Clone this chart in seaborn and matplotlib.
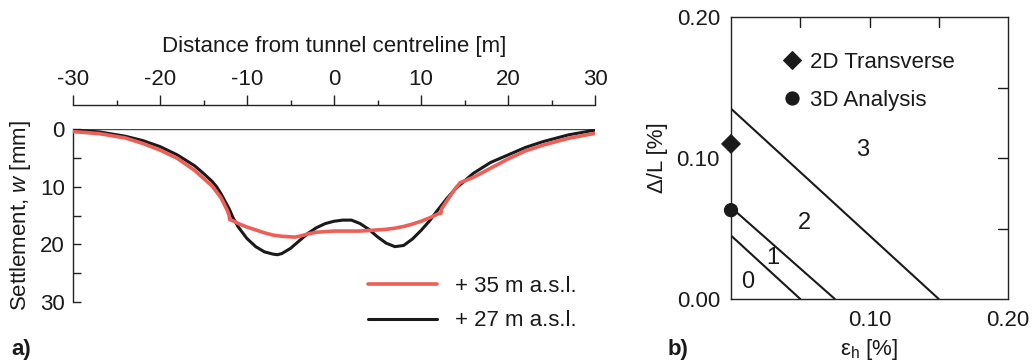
import numpy as np
import pandas as pd
import matplotlib
matplotlib.use("Agg")
import matplotlib.pyplot as plt
import seaborn as sns
from matplotlib.ticker import MultipleLocator, FixedLocator, FormatStrFormatter

# ---------------- data ----------------
# Left panel: settlement troughs (distance [m], settlement [mm])
x_27 = [-30, -27, -24, -22, -20, -18, -16, -15, -14, -13.5, -13, -12.5, -12, -11.6, -11, -10, -9, -8, -7, -6.5, -6,
        -5, -4, -3, -2, -1, 0, 1, 2, 3, 4, 5, 6, 7, 8, 9, 10, 11, 12, 13, 14, 16, 18, 20, 22, 24, 27, 30]
w_27 = [0.2, 0.5, 1.25, 2.0, 3.05, 4.5, 6.4, 7.7, 9.1, 10.0, 11.2, 12.6, 14.0, 15.4, 17.0, 19.0, 20.4, 21.3, 21.7, 21.8, 21.6,
        20.7, 19.4, 18.1, 17.1, 16.4, 16.0, 15.8, 15.8, 16.4, 17.4, 18.7, 19.8, 20.4, 20.2, 19.1, 17.6, 15.9, 13.9, 12.0, 10.3, 7.7, 5.8, 4.5, 3.2, 2.2, 1.0, 0.2]

x_35 = [-30, -27, -24, -22, -20, -18, -16, -14, -13, -12.3, -12.05, -12.0, -11.5, -11, -10, -9, -8, -7, -6, -5, -4.5,
        -4, -3, -2, -1, 0, 1, 2, 3, 4, 5, 6, 7, 8, 9, 10, 11, 12, 12.3, 12.35, 13, 14, 14.3, 14.5, 15, 16, 18, 20, 22, 24, 27, 30]
w_35 = [0.45, 0.8, 1.55, 2.5, 3.65, 5.1, 7.2, 9.9, 11.9, 14.0, 15.0, 15.7, 16.0, 16.4, 17.0, 17.5, 18.0, 18.4, 18.6, 18.7, 18.75,
        18.6, 18.2, 17.9, 17.8, 17.7, 17.7, 17.7, 17.7, 17.6, 17.5, 17.4, 17.2, 16.9, 16.5, 16.0, 15.4, 14.7, 14.6, 13.9, 12.4, 10.2, 9.7, 9.3, 9.0, 8.4, 6.8, 5.2, 3.8, 2.8, 1.6, 0.75]

label_35 = "+ 35 m a.s.l."
label_27 = "+ 27 m a.s.l."

# Right panel: damage category boundaries and results
zone_eps_intercept = [0.05, 0.075, 0.15]
zone_dl_intercept = [0.045, 0.065, 0.135]
zone_labels = ["0", "1", "2", "3"]
zone_label_x = [0.012, 0.030, 0.053, 0.095]
zone_label_y = [0.012, 0.029, 0.054, 0.106]
pt_names = ["2D Transverse", "3D Analysis"]
pt_eps = [0.0, 0.0]
pt_dl = [0.11, 0.063]

top_ticks = [-30, -20, -10, 0, 10, 20, 30]
left_ticks = [0, 10, 20, 30]

# ---------------- style ----------------
sns.set_style("ticks")
plt.rcParams["font.family"] = ["Liberation Sans", "DejaVu Sans"]
plt.rcParams["mathtext.fontset"] = "custom"
plt.rcParams["mathtext.rm"] = "Liberation Sans"
plt.rcParams["mathtext.it"] = "Liberation Sans:italic"
plt.rcParams["axes.edgecolor"] = "#222222"
plt.rcParams["axes.linewidth"] = 1.0
plt.rcParams["axes.unicode_minus"] = False
plt.rcParams["text.color"] = "#1a1a1a"
plt.rcParams["xtick.color"] = "#222222"
plt.rcParams["ytick.color"] = "#222222"
plt.rcParams["xtick.labelcolor"] = "#1a1a1a"
plt.rcParams["ytick.labelcolor"] = "#1a1a1a"
plt.rcParams["axes.labelcolor"] = "#1a1a1a"

W, H = 1033, 364
fig = plt.figure(figsize=(W / 100, H / 100), dpi=100)
fig.patch.set_facecolor("white")

RED = "#EE5F58"
BLK = "#1a1a1a"
FS = 16

# ---------------- left panel ----------------
ax1 = fig.add_axes([73 / W, 1 - 302 / H, (595 - 73) / W, (302 - 129) / H])
df35 = pd.DataFrame({"x": x_35, "w": w_35})
df27 = pd.DataFrame({"x": x_27, "w": w_27})
ax1.axhline(0, color="#444444", lw=1.0, zorder=1)
sns.lineplot(data=df35, x="x", y="w", ax=ax1, color=RED, lw=2.6, sort=False, estimator=None,
             label=label_35, zorder=3)
sns.lineplot(data=df27, x="x", y="w", ax=ax1, color=BLK, lw=2.2, sort=False, estimator=None,
             label=label_27, zorder=2)
ax1.set_xlim(-30, 30)
ax1.set_ylim(30, 0)
ax1.spines["right"].set_visible(False)
ax1.spines["bottom"].set_visible(False)
ax1.spines["top"].set_position(("outward", 24 * 0.72))
ax1.xaxis.tick_top()
ax1.xaxis.set_label_position("top")
ax1.xaxis.set_major_locator(FixedLocator(top_ticks))
ax1.xaxis.set_minor_locator(MultipleLocator(5))
ax1.tick_params(axis="x", which="major", direction="out", length=7, width=1, labelsize=FS, pad=4)
ax1.tick_params(axis="x", which="minor", direction="out", length=3.5, width=1)
ax1.yaxis.set_major_locator(FixedLocator(left_ticks))
ax1.yaxis.set_minor_locator(MultipleLocator(5))
ax1.tick_params(axis="y", which="both", direction="in", length=6, width=1, labelsize=FS, pad=6)
ax1.set_xlabel("Distance from tunnel centreline [m]", fontsize=FS, labelpad=12)
ax1.set_ylabel("Settlement, $w$ [mm]", fontsize=FS, labelpad=5)
ax1.legend(loc="upper left", bbox_to_anchor=(368 / W, 1 - 276 / H), bbox_transform=fig.transFigure,
           frameon=False, fontsize=FS, handlelength=3.1, handletextpad=0.8, labelspacing=0.6,
           borderpad=0, borderaxespad=0)
fig.text(11 / W, 1 - 350 / H, "a)", fontsize=FS, fontweight="bold", va="center", ha="left")

# ---------------- right panel ----------------
ax2 = fig.add_axes([731 / W, 1 - 299 / H, (1008 - 731) / W, (299 - 17) / H])
for xe, yd in zip(zone_eps_intercept, zone_dl_intercept):
    dline = pd.DataFrame({"e": [0.0, xe], "d": [yd, 0.0]})
    sns.lineplot(data=dline, x="e", y="d", ax=ax2, color=BLK, lw=1.5, sort=False, estimator=None)
dpts = pd.DataFrame({"e": pt_eps, "d": pt_dl, "name": pt_names})
sns.scatterplot(data=dpts, x="e", y="d", hue="name", style="name", palette=[BLK, BLK],
                markers={pt_names[0]: "D", pt_names[1]: "o"}, s=90, ax=ax2,
                edgecolor=BLK, clip_on=False, zorder=5, legend=True)
ax2.set_xlim(0, 0.2)
ax2.set_ylim(0, 0.2)
for s in ["top", "right", "left", "bottom"]:
    ax2.spines[s].set_visible(True)
ax2.xaxis.set_major_locator(FixedLocator([0.10, 0.20]))
ax2.yaxis.set_major_locator(FixedLocator([0.0, 0.10, 0.20]))
ax2.xaxis.set_major_formatter(FormatStrFormatter("%.2f"))
ax2.yaxis.set_major_formatter(FormatStrFormatter("%.2f"))
ax2.tick_params(axis="both", which="major", length=0, labelsize=FS, pad=8)
# inward ticks on top and right at 0.05 steps
for v in [0.05, 0.10, 0.15]:
    ax2.plot([v, v], [0.2, 0.2 - 0.007], color=BLK, lw=1.0)
    ax2.plot([0.2, 0.2 - 0.007], [v, v], color=BLK, lw=1.0)
ax2.set_xlabel(r"ε$_\mathrm{h}$ [%]", fontsize=FS, labelpad=4)
ax2.set_ylabel("Δ/L [%]", fontsize=FS, labelpad=6)
for lab, lx, ly in zip(zone_labels, zone_label_x, zone_label_y):
    ax2.text(lx, ly, lab, fontsize=FS + 1, ha="center", va="center")
h, l = ax2.get_legend_handles_labels()
ax2.legend(h, l, loc="upper left", bbox_to_anchor=(783 / W, 1 - 52 / H), bbox_transform=fig.transFigure,
           frameon=False, fontsize=FS, handlelength=0.8, handletextpad=0.4, labelspacing=0.75,
           borderpad=0, borderaxespad=0)
fig.text(668 / W, 1 - 350 / H, "b)", fontsize=FS, fontweight="bold", va="center", ha="left")

fig.savefig("out.png", dpi=100, facecolor="white")
